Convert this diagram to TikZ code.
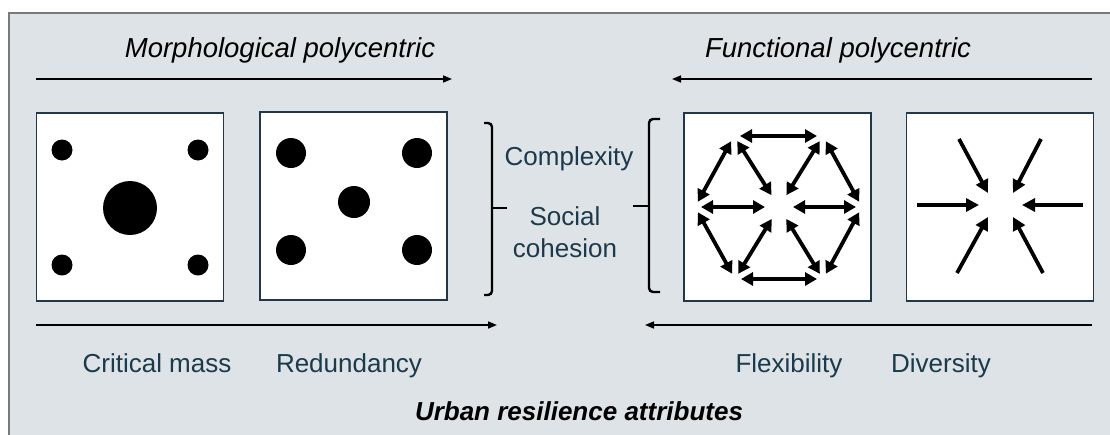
\documentclass[tikz,border=0pt]{standalone}
\usepackage{fontspec}
\setmainfont{Liberation Sans}
\usetikzlibrary{arrows.meta}
\definecolor{panel}{HTML}{DDE3E6}
\definecolor{framegray}{HTML}{7A7A7A}
\definecolor{ink}{HTML}{1C3A4C}
\definecolor{boxline}{HTML}{22384A}
\begin{document}
\begin{tikzpicture}[x=1pt,y=-1pt,
  schemebox/.style={draw=boxline,line width=1.8pt,fill=white,minimum width=187pt,minimum height=188pt,inner sep=0pt},
  dot/.style={circle,fill=black,inner sep=0pt},
  longarrow/.style={line width=1.6pt,-{Triangle[length=9pt,width=7pt]}},
  flowarrow/.style={line width=3.8pt,-{Triangle[length=13pt,width=13pt]}},
  linkarrow/.style={line width=3.8pt,{Triangle[length=12pt,width=13pt]}-{Triangle[length=12pt,width=13pt]},shorten <=6pt,shorten >=6pt},
  tocentre/.style={shorten >=14pt},
  fromcentre/.style={shorten <=14pt},
  title/.style={font=\fontsize{27.5}{32}\selectfont\itshape,text=black,anchor=base,inner sep=0pt},
  label/.style={font=\fontsize{26}{32}\selectfont,text=ink,anchor=base,inner sep=0pt},
  bracket/.style={line width=2.4pt,rounded corners=4pt}
]
\useasboundingbox (0,0) rectangle (1110,434);
% page and panel
\fill[white] (0,0) rectangle (1110,434);
\fill[panel] (9,13) rectangle (1116,440);
\draw[framegray,line width=2pt] (9,440) -- (9,13) -- (1116,13);

% headings
\node[title] (morph) at (280,57) {Morphological polycentric};
\node[title] (func) at (838,57) {Functional polycentric};

% direction arrows
\coordinate (mt0) at (36,79);  \coordinate (mt1) at (452,79);
\coordinate (ft0) at (1092,79); \coordinate (ft1) at (672,79);
\coordinate (mb0) at (36,325);  \coordinate (mb1) at (497,325);
\coordinate (fb0) at (1092,325); \coordinate (fb1) at (645,325);
\draw[longarrow] (mt0) -- (mt1);
\draw[longarrow] (ft0) -- (ft1);
\draw[longarrow] (mb0) -- (mb1);
\draw[longarrow] (fb0) -- (fb1);

% the four schemes
\node[schemebox] (critbox) at (130,207) {};
\node[schemebox] (redbox) at (353.5,206) {};
\node[schemebox] (flexbox) at (777.5,207) {};
\node[schemebox] (divbox) at (1000,207) {};

% critical mass: one large core, four small centres
\node[dot,minimum size=21pt] (c1) at (62,150) {};
\node[dot,minimum size=21pt] (c2) at (198,150) {};
\node[dot,minimum size=21pt] (c3) at (62,265) {};
\node[dot,minimum size=21pt] (c4) at (198,265) {};
\node[dot,minimum size=54pt] (c0) at (130,208) {};

% redundancy: five equal centres
\node[dot,minimum size=30pt] (r1) at (291,153) {};
\node[dot,minimum size=30pt] (r2) at (417,153) {};
\node[dot,minimum size=30pt] (r3) at (291,250) {};
\node[dot,minimum size=30pt] (r4) at (417,250) {};
\node[dot,minimum size=32pt] (r0) at (354,202) {};

% brackets and shared attributes
\draw[bracket] (484,123) -- (492,123) -- (492,295) -- (484,295);
\coordinate (bl) at (492,208); \coordinate (blt) at (507,208);
\draw[line width=2.4pt] (bl) -- (blt);
\draw[bracket] (660,119) -- (649,119) -- (649,292) -- (660,292);
\coordinate (br) at (649,206); \coordinate (brt) at (633,206);
\draw[line width=2.4pt] (br) -- (brt);
\node[label] (cx) at (569,165) {Complexity};
\node[label] (sc1) at (565,225) {Social};
\node[label] (sc2) at (565,257) {cohesion};

% flexibility: hexagonal network of two-way links
\coordinate (TL) at (734,136);
\coordinate (TR) at (823,136);
\coordinate (L) at (695,207);
\coordinate (C) at (779,207);
\coordinate (R) at (862,207);
\coordinate (BL) at (735,279);
\coordinate (BR) at (823,279);
\foreach \a/\b in {TL/TR,TL/L,TR/R,L/BL,R/BR,BL/BR}
  \draw[linkarrow] (\a) -- (\b);
\foreach \a in {TL,TR,L}
  \draw[linkarrow,tocentre] (\a) -- (C);
\foreach \b in {R,BL,BR}
  \draw[linkarrow,fromcentre] (C) -- (\b);

% diversity: flows converging on one point
\coordinate (w0) at (917,205);  \coordinate (w1) at (979,205);
\coordinate (e0) at (1083,205); \coordinate (e1) at (1022,205);
\coordinate (nw0) at (959,139); \coordinate (nw1) at (988,193);
\coordinate (ne0) at (1041,139); \coordinate (ne1) at (1013,193);
\coordinate (sw0) at (957,273); \coordinate (sw1) at (988,217);
\coordinate (se0) at (1043,273); \coordinate (se1) at (1013,217);
\foreach \p in {w,e,nw,ne,sw,se}
  \draw[flowarrow] (\p0) -- (\p1);

% attribute names
\node[label] (lcm) at (157,372) {Critical mass};
\node[label] (lred) at (349,372) {Redundancy};
\node[label] (lflex) at (789,372) {Flexibility};
\node[label] (ldiv) at (941,372) {Diversity};
\node[label,text=black,font=\fontsize{26}{30}\selectfont\bfseries\itshape] (attr) at (579,420) {Urban resilience attributes};
\end{tikzpicture}
\end{document}
